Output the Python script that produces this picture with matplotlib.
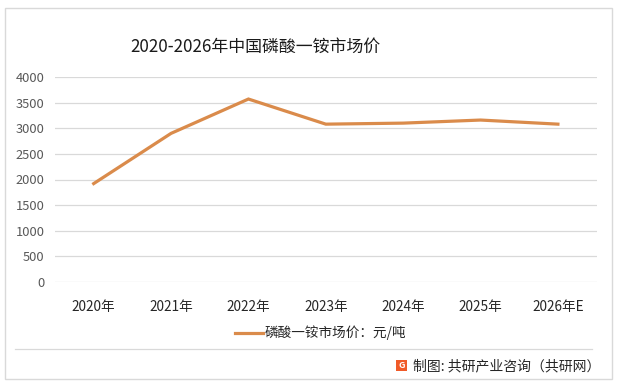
import matplotlib
matplotlib.use('Agg')
import matplotlib.pyplot as plt
from matplotlib.patches import Rectangle
from matplotlib.lines import Line2D

plt.rcParams['font.family'] = ['Noto Sans CJK SC', 'DejaVu Sans']

# data
years = ['2020年', '2021年', '2022年', '2023年', '2024年', '2025年', '2026年E']
price = [1920, 2900, 3570, 3080, 3100, 3160, 3080]
yticks = [0, 500, 1000, 1500, 2000, 2500, 3000, 3500, 4000]

title_name = '2020-2026年中国磷酸一铵市场价'
legend_name = '磷酸一铵市场价：元/吨'
source = '制图: 共研产业咨询（共研网）'

line_color = '#DA8B4B'
W, H = 617, 382

fig = plt.figure(figsize=(W/100, H/100), dpi=100)
ax = fig.add_axes([55/W, 1-282/H, (596.6-55)/W, 205/H])

x = range(len(years))
ax.plot(x, price, color=line_color, linewidth=2.3, solid_joinstyle='miter')

ax.set_xlim(-0.5, len(years)-0.5)
ax.set_ylim(0, 4000)
ax.set_yticks(yticks)
ax.set_yticklabels([str(v) for v in yticks], fontsize=9.3, color='#595959')
ax.set_xticks(list(x))
ax.set_xticklabels(years, fontsize=9.8, color='#262626')
ax.tick_params(axis='both', length=0)
ax.tick_params(axis='y', pad=7.5)
ax.tick_params(axis='x', pad=13)
ax.grid(axis='y', color='#d9d9d9', linewidth=0.9)
ax.set_axisbelow(True)
for s in ax.spines.values():
    s.set_visible(False)

fig.text(255/W, 1-47/H, title_name, ha='center', va='center', fontsize=12.2, color='#1a1a1a')

# legend
fig.add_artist(Line2D([235/W, 263/W], [1-333/H, 1-333/H], color=line_color, linewidth=2.3))
fig.text(265/W, 1-333/H, legend_name, ha='left', va='center', fontsize=9.8, color='#262626')

# separator and footer
fig.add_artist(Line2D([15/W, 592/W], [1-349/H, 1-349/H], color='#d9d9d9', linewidth=0.9))
fig.add_artist(Rectangle((396/W, 1-371/H), 11/W, 11/H, facecolor='#F05A28', edgecolor='none'))
fig.text(401.5/W, 1-365.5/H, 'G', ha='center', va='center', fontsize=6.5, color='white', fontweight='bold')
fig.text(413/W, 1-366/H, source, ha='left', va='center', fontsize=10, color='#262626')

# outer border
fig.add_artist(Rectangle((5/W, 1-379/H), 607/W, 371/H, fill=False, edgecolor='#d9d9d9', linewidth=1))

fig.savefig('out.png', dpi=100)
